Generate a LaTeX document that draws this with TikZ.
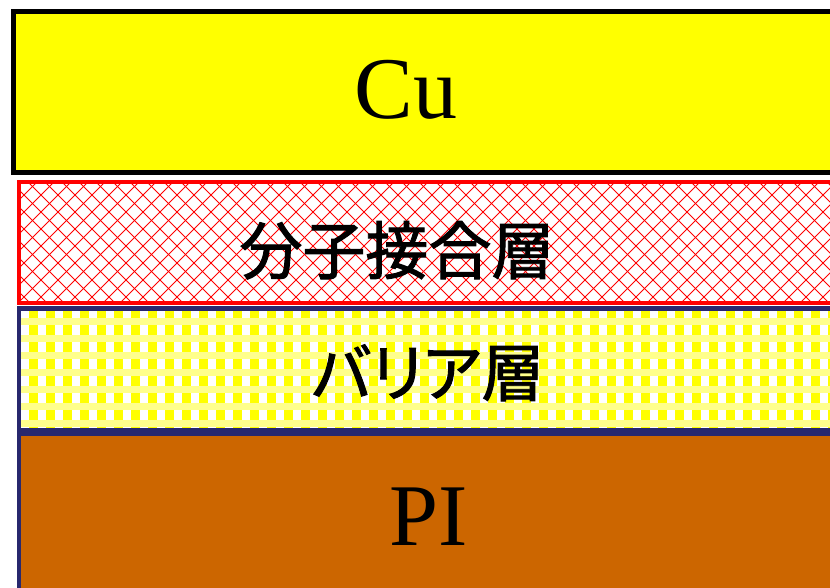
\documentclass[tikz,border=0pt]{standalone}
\usepackage{fontspec}
\setmainfont{Liberation Serif}
\newfontfamily\jpfont[FakeBold=1.5]{Noto Sans CJK JP}
\newfontfamily\jpkana[FakeBold=1.5,RawFeature=+palt]{Noto Sans CJK JP}
\definecolor{navy}{RGB}{40,40,110}
\definecolor{pibrown}{RGB}{204,102,0}
\definecolor{cuyellow}{RGB}{255,255,0}
\definecolor{lightyel}{RGB}{255,255,140}
\tikzset{
  layerborder/.style={line width=4.5pt},
  bigtext/.style={font=\fontsize{88}{88}\selectfont, anchor=base, inner sep=0pt},
  jptext/.style={font=\jpfont\fontsize{63}{63}\selectfont, anchor=base, inner sep=0pt},
  kanatext/.style={font=\jpkana\fontsize{63}{63}\selectfont, anchor=base, inner sep=0pt},
  hatchline/.style={red, line width=1pt}
}
\begin{document}
\begin{tikzpicture}[x=1pt,y=-1pt]
\useasboundingbox (0,0) rectangle (830,587);
\clip (0,0) rectangle (830,587);
% Cu layer
\fill[cuyellow] (13,11) rectangle (845,172);
\draw[layerborder, black, line width=5pt] (13,11) rectangle (845,172);
% molecular bonding layer
\fill[white] (19,182) rectangle (845,303);
\begin{scope}
  \clip (19,182) rectangle (845,303);
  \foreach \i in {-10,...,60} {
    \draw[hatchline] (\i*17+7,178) -- ++(130,130);
    \draw[hatchline] (\i*17+7,178) -- ++(-130,130);
  }
\end{scope}
\draw[layerborder, red] (19,182) rectangle (845,303);
% barrier layer
\fill[white] (19,308) rectangle (845,431);
\begin{scope}
  \clip (19,308) rectangle (845,431);
  \foreach \i in {0,...,50} {
    \fill[cuyellow] (\i*17+12,300) rectangle ++(9,140);
  }
  \foreach \j in {0,...,8} {
    \fill[lightyel] (0,\j*17+301) rectangle (845,\j*17+308);
  }
\end{scope}
\draw[layerborder, navy] (19,308.5) rectangle (845,430);
% PI layer
\fill[pibrown] (19,434) rectangle (845,600);
\draw[layerborder, navy] (19,434) rectangle (845,600);
% labels
\node[bigtext] (cu) at (406,118) {Cu};
\node[jptext] (bond) at (397,274) {分子接合層};
\node[kanatext] (barrier) at (428,396) {バリア層};
\node[bigtext] (pi) at (429,545) {PI};
\end{tikzpicture}
\end{document}
